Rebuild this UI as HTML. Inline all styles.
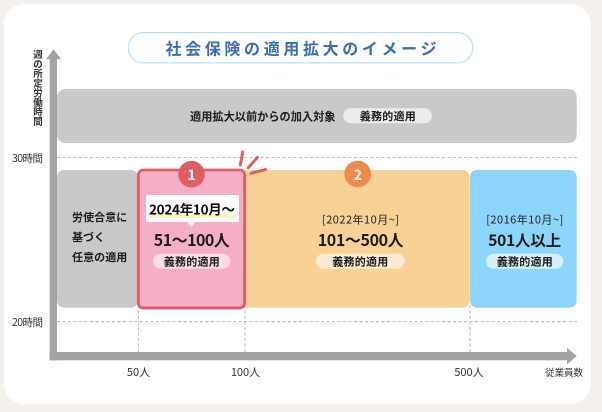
<!DOCTYPE html>
<html lang="ja">
<head>
<meta charset="utf-8">
<style>
html,body{margin:0;padding:0;background:#f4f1ec}
svg{display:block}
text{font-family:"Noto Sans CJK JP","Liberation Sans",sans-serif;fill:#333}
.b{font-weight:700}
.k{font-weight:700;fill:#1c1c1c}
</style>
</head>
<body>
<svg width="602" height="412" viewBox="0 0 602 412" xmlns="http://www.w3.org/2000/svg">
<rect width="602" height="412" fill="#f4f1ec"/>
<rect x="4" y="4" width="587" height="400" rx="21" fill="#fff"/>

<!-- Title -->
<rect x="128.300" y="32.600" width="344.500" height="30.200" rx="15" fill="#fff" stroke="#b9e2fb" stroke-width="1.300"/>
<text class="b" x="165.500" y="54.500" font-size="16" textLength="271" lengthAdjust="spacing" style="fill:#3a6db2">社会保険の適用拡大のイメージ</text>

<!-- Dashed guides -->
<g stroke="#a8a8a8" stroke-width="0.800" stroke-dasharray="3 2.500" fill="none">
<line x1="57" y1="157.500" x2="577" y2="157.500"/>
<line x1="57" y1="321.700" x2="577" y2="321.700"/>
<line x1="138.300" y1="305" x2="138.300" y2="352"/>
<line x1="245" y1="305" x2="245" y2="352"/>
<line x1="470" y1="305" x2="470" y2="352" stroke-width="1.200" stroke="#c0c0c0"/>
</g>

<!-- Axes -->
<rect x="49.700" y="58" width="7.300" height="302.300" fill="#a3a3a3"/>
<polygon points="53.500,49.300 61,59.300 46,59.300" fill="#a3a3a3"/>
<rect x="49.700" y="352" width="518" height="8.300" fill="#a3a3a3"/>
<polygon points="576.700,356 567,347.700 567,364.500" fill="#a3a3a3"/>

<!-- Top band -->
<rect x="57" y="89" width="519.700" height="54" rx="8" fill="#c9c9c9"/>
<text class="k" x="190" y="120.500" font-size="11.200" textLength="145.500" lengthAdjust="spacing">適用拡大以前からの加入対象</text>
<rect x="343.300" y="108.300" width="88.700" height="15" rx="7.500" fill="#ececec"/>
<text class="k" x="387.700" y="120" text-anchor="middle" font-size="11" textLength="56" lengthAdjust="spacing">義務的適用</text>

<!-- Columns -->
<rect x="57" y="170" width="81" height="137.700" rx="7" fill="#c9c9c9"/>
<rect x="240" y="170" width="229.700" height="137.700" rx="7" fill="#f8d197"/>
<rect x="470" y="170" width="106.700" height="137.700" rx="7" fill="#8ed5fc"/>
<rect x="138.300" y="170" width="106.400" height="138" rx="5" fill="#f5aec8" stroke="#de5f63" stroke-width="2.800"/>

<!-- Burst -->
<g stroke="#de5f63" stroke-width="3" stroke-linecap="round">
<line x1="240.300" y1="165" x2="242.700" y2="152"/>
<line x1="248.300" y1="167.800" x2="257.300" y2="157.500"/>
<line x1="251" y1="173.300" x2="265.500" y2="169.500"/>
</g>

<!-- Badges -->
<circle cx="191.500" cy="174.200" r="13.300" fill="#de5f63"/>
<text class="b" x="191.500" y="180" text-anchor="middle" font-size="14" style="fill:#fff">1</text>
<circle cx="357.700" cy="174" r="13.300" fill="#f0894c"/>
<text class="b" x="357.700" y="180" text-anchor="middle" font-size="14" style="fill:#fff">2</text>

<!-- Left column text -->
<text class="k" x="72" y="221" font-size="11" textLength="55.300" lengthAdjust="spacing">労使合意に</text>
<text class="k" x="72" y="241" font-size="11" textLength="33" lengthAdjust="spacing">基づく</text>
<text class="k" x="72" y="261" font-size="11" textLength="55.300" lengthAdjust="spacing">任意の適用</text>

<!-- Pink column -->
<rect x="146" y="195" width="93" height="27" rx="1" fill="#fff"/>
<polygon points="187.300,222 195.300,222 191.300,226.700" fill="#fff"/>
<rect x="149" y="214.500" width="87" height="3.500" fill="#fbf6b4"/>
<text class="b" x="192" y="214.500" text-anchor="middle" font-size="13.500" textLength="86" lengthAdjust="spacing" style="fill:#0c0c0c">2024年10月～</text>
<text class="k" x="191.800" y="246" text-anchor="middle" font-size="16" textLength="76" lengthAdjust="spacing">51～100人</text>
<rect x="153" y="253.700" width="77.300" height="15" rx="7.500" fill="#fbdbe6"/>
<text class="k" x="191.800" y="265.500" text-anchor="middle" font-size="11" textLength="56" lengthAdjust="spacing">義務的適用</text>

<!-- Orange column -->
<text x="360.500" y="223.500" text-anchor="middle" font-size="11" textLength="77" lengthAdjust="spacing" style="fill:#222">[2022年10月~]</text>
<text class="k" x="360.700" y="246" text-anchor="middle" font-size="16" textLength="86" lengthAdjust="spacing">101～500人</text>
<rect x="316" y="253.700" width="88.700" height="15" rx="7.500" fill="#fcebd2"/>
<text class="k" x="360.300" y="265.500" text-anchor="middle" font-size="11" textLength="56" lengthAdjust="spacing">義務的適用</text>

<!-- Blue column -->
<text x="524.700" y="223.500" text-anchor="middle" font-size="11" textLength="77" lengthAdjust="spacing" style="fill:#222">[2016年10月~]</text>
<text class="k" x="524.700" y="246" text-anchor="middle" font-size="15.500" textLength="73" lengthAdjust="spacing">501人以上</text>
<rect x="486" y="253.700" width="77.300" height="15" rx="7.500" fill="#d5effd"/>
<text class="k" x="524.700" y="265.500" text-anchor="middle" font-size="11" textLength="56" lengthAdjust="spacing">義務的適用</text>

<!-- Axis labels -->
<text x="12" y="162" font-size="10.500" textLength="31" lengthAdjust="spacing">30時間</text>
<text x="12" y="326" font-size="10.500" textLength="31" lengthAdjust="spacing">20時間</text>
<text x="138.500" y="376" text-anchor="middle" font-size="11">50人</text>
<text x="245.500" y="376" text-anchor="middle" font-size="11">100人</text>
<text x="469" y="376" text-anchor="middle" font-size="11">500人</text>
<text x="545" y="376" font-size="9.500" textLength="38" lengthAdjust="spacing">従業員数</text>
<g font-size="9.500" text-anchor="middle">
<text class="b" x="38" y="58">週</text>
<text class="b" x="38" y="67.600">の</text>
<text class="b" x="38" y="77.200">所</text>
<text class="b" x="38" y="86.800">定</text>
<text class="b" x="38" y="96.400">労</text>
<text class="b" x="38" y="106">働</text>
<text class="b" x="38" y="115.600">時</text>
<text class="b" x="38" y="125.200">間</text>
</g>
</svg>
</body>
</html>
